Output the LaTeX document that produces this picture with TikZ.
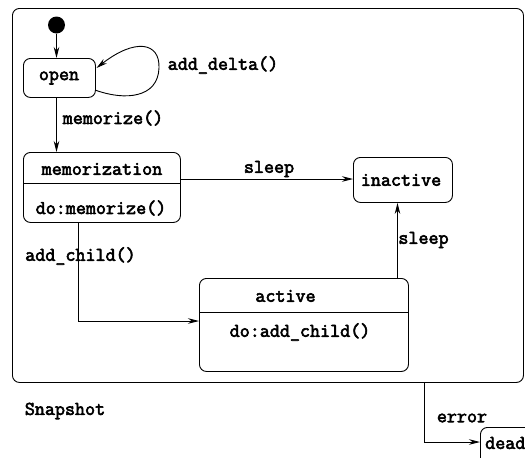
\documentclass[tikz,border=0pt]{standalone}
\usepackage{fontspec}
\newfontfamily\codefont{Latin Modern Mono}[FakeBold=3]
\usetikzlibrary{arrows.meta}
\tikzset{
  every node/.style={font=\codefont\fontsize{19.5}{22}\selectfont},
  line/.style={line width=0.9pt},
  arr/.style={line, -{Stealth[length=11pt,width=5.5pt,inset=3.5pt]}},
  statebox/.style={draw, line width=0.9pt, rounded corners=7pt, anchor=north west, inner sep=0pt},
  lbl/.style={inner sep=0pt, anchor=center},
}
\begin{document}
\begin{tikzpicture}[x=1pt,y=-1pt]
\useasboundingbox (0,0) rectangle (525,458);
\clip (0,0) rectangle (525,458);
% outer composite state
\node[statebox, minimum width=511pt, minimum height=374pt] (snap) at (12,8) {};
\node[lbl] (snaplbl) at (65,411) {Snapshot};
% initial
\node[circle, fill=black, inner sep=0pt, minimum size=17pt] (init) at (56.5,25) {};
% open
\node[statebox, minimum width=72pt, minimum height=39pt] (openb) at (23,58) {};
\node[lbl] (opent) at (59,78) {open};
% memorization
\node[statebox, minimum width=157pt, minimum height=70pt] (memb) at (23,152) {};
\node[lbl] (memt) at (102,169) {memorization};
\node[lbl] (memd) at (101,208) {do:memorize()};
\coordinate (memdivL) at (23,183);
\coordinate (memdivR) at (180,183);
\draw[line] (memdivL) -- (memdivR);
% inactive
\node[statebox, minimum width=99pt, minimum height=45pt] (inab) at (353,157) {};
\node[lbl] (inat) at (401,180) {inactive};
% active
\node[statebox, minimum width=209pt, minimum height=93pt] (actb) at (199,278) {};
\node[lbl] (actt) at (285.5,296) {active};
\node[lbl] (actd) at (300,332) {do:add\_child()};
\coordinate (actdivL) at (199,312);
\coordinate (actdivR) at (408,312);
\draw[line] (actdivL) -- (actdivR);
% dead
\node[statebox, minimum width=80pt, minimum height=40pt] (deadb) at (480,427) {};
\node[lbl, anchor=west] (deadt) at (485,443) {dead};
% transitions
\draw[arr] (init.south) -- (init.south |- openb.north);
\draw[arr] (openb.south -| init) -- (init |- memb.north);
\node[lbl] (memlbl) at (113,118) {memorize()};
\coordinate (loopA) at (95,90);
\coordinate (loopR) at (159,68);
\coordinate (loopB) at (96.5,68);
\draw[arr] (loopA) .. controls (125,101) and (158,98) .. (loopR)
  .. controls (160,42) and (135,38) .. (loopB);
\node[lbl] (deltalbl) at (223,65) {add\_delta()};
\coordinate (s1) at (180,179);
\draw[arr] (s1) -- (s1 -| inab.west);
\node[lbl] (sleep1) at (269,169) {sleep};
\coordinate (s2) at (397.5,278);
\draw[arr] (s2) -- (s2 |- inab.south);
\node[lbl] (sleep2) at (423.5,240) {sleep};
\coordinate (c1) at (78,222);
\coordinate (c2) at (78,321);
\draw[arr] (c1) -- (c2) -- (c2 -| actb.west);
\node[lbl] (childlbl) at (80.5,256) {add\_child()};
\coordinate (e1) at (424.5,382);
\coordinate (e2) at (424.5,442);
\draw[arr] (e1) -- (e2) -- (e2 -| deadb.west);
\node[lbl] (errlbl) at (462,418) {error};
\end{tikzpicture}
\end{document}
